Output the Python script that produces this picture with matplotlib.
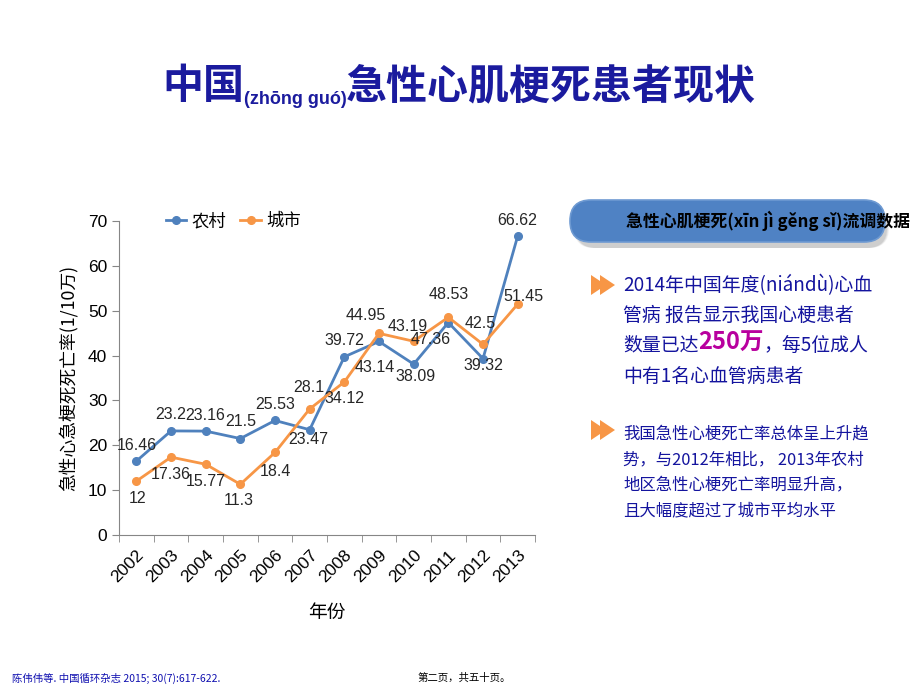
import matplotlib
matplotlib.use("Agg")
import matplotlib.pyplot as plt
from matplotlib.patches import FancyBboxPatch, Polygon

# Data
years = ["2002", "2003", "2004", "2005", "2006", "2007",
         "2008", "2009", "2010", "2011", "2012", "2013"]
rural = [16.46, 23.2, 23.16, 21.5, 25.53, 23.47,
         39.72, 43.14, 38.09, 47.36, 39.32, 66.62]
urban = [12, 17.36, 15.77, 11.3, 18.4, 28.1,
         34.12, 44.95, 43.19, 48.53, 42.5, 51.45]

# label offsets in pixels (dx, dy up) — layout only
rural_off = [(0, 16), (0, 16), (0, 16), (0, 17), (0, 16), (-1, -10),
             (0, 16), (-4, -26), (2, -12), (-18, -17), (0, -7), (0, 16)]
urban_off = [(1, -17), (0, -17), (0, -17), (-2, -16), (0, -19), (-1, 21),
             (0, -17), (-13, 18), (-6, 15), (0, 23), (-3, 21), (6, 8)]

BLUE = "#4F81BD"
ORANGE = "#F79646"
NAVY = "#1B1B9E"
TXT = "#14149E"
GRAY = "#868686"
CJK = ["Noto Sans CJK SC", "DejaVu Sans"]
LAT = ["Liberation Sans", "DejaVu Sans"]

plt.rcParams["font.family"] = CJK

W, H = 920, 689
fig = plt.figure(figsize=(W / 100, H / 100), dpi=100)
fig.patch.set_facecolor("white")

# ── overlay in pixel units (y down) ─────────────────────────────────────────
ov = fig.add_axes([0, 0, 1, 1])
ov.set_xlim(0, W); ov.set_ylim(H, 0)
ov.axis("off")

# Title
ov.text(162, 86, "中国", fontsize=29.5, fontweight="bold", color=NAVY,
        ha="left", va="center", family=CJK)
ov.text(244, 104, "(zhōng guó)", fontsize=13, fontweight="bold", color=NAVY,
        ha="left", va="baseline", family=LAT)
ov.text(346, 86, "急性心肌梗死患者现状", fontsize=29.5, fontweight="bold",
        color=NAVY, ha="left", va="center", family=CJK)

# Banner pill with soft shadow
for k, a in enumerate([0.10, 0.14, 0.18]):
    ov.add_patch(FancyBboxPatch((574 + k, 206 + k), 315 - 2 * k, 42 - k,
                 boxstyle="round,pad=0,rounding_size=20",
                 fc="#7f7f7f", ec="none", alpha=a, zorder=1))
ov.add_patch(FancyBboxPatch((570, 200), 315, 42,
             boxstyle="round,pad=0,rounding_size=21",
             fc="#4F82C4", ec="#6E9AD2", lw=1.2, zorder=2))
ov.text(626, 221, "急性心肌梗死(xīn jì gěng sǐ)流调数据", fontsize=12.2,
        fontweight="bold", color="black", ha="left", va="center",
        family=CJK, zorder=3)


def bullet(cy):
    for x0 in (591, 600):
        ov.add_patch(Polygon([(x0, cy - 10), (x0, cy + 10), (x0 + 15, cy)],
                             closed=True, fc=ORANGE, ec="none", zorder=3))


bullet(285)
bullet(430)

# bullet 1
ov.text(623, 285, "2014年中国年度(niándù)心血", fontsize=13.6, color=TXT,
        ha="left", va="center")
ov.text(623, 315, "管病 报告显示我国心梗患者", fontsize=13.6, color=TXT,
        ha="left", va="center")
ov.text(623, 345, "数量已达", fontsize=13.6, color=TXT, ha="left", va="center")
ov.text(698, 343, "250万", fontsize=17, fontweight="bold", color="#B8009E",
        ha="left", va="center")
ov.text(763, 345, "，每5位成人", fontsize=13.6, color=TXT, ha="left", va="center")
ov.text(623, 376, "中有1名心血管病患者", fontsize=13.6, color=TXT,
        ha="left", va="center")

# bullet 2
lines2 = ["我国急性心梗死亡率总体呈上升趋",
          "势，与2012年相比， 2013年农村",
          "地区急性心梗死亡率明显升高，",
          "且大幅度超过了城市平均水平"]
for i, s in enumerate(lines2):
    ov.text(623, 434 + i * 25.5, s, fontsize=11.8, color=TXT,
            ha="left", va="center")

# footer
ov.text(12, 678, "陈伟伟等. 中国循环杂志 2015; 30(7):617-622.", fontsize=7.5,
        color="#1010B0", ha="left", va="center")
ov.text(418, 678, "第二页，共五十页。", fontsize=7.5, color="black",
        ha="left", va="center")

# ── line chart ──────────────────────────────────────────────────────────────
ax = fig.add_axes([119 / W, 1 - 535 / H, (535 - 119) / W, (535 - 221) / H])
x = list(range(len(years)))
ax.plot(x, rural, color=BLUE, lw=2, marker="o", ms=5.5, label="农村", zorder=3)
ax.plot(x, urban, color=ORANGE, lw=2, marker="o", ms=5.5, label="城市", zorder=3)

for xi, v, (dx, dy) in zip(x, rural, rural_off):
    ax.annotate(f"{v:g}", (xi, v), xytext=(dx, dy), textcoords="offset pixels",
                ha="center", va="center", fontsize=11.5, color="#262626",
                family=LAT)
for xi, v, (dx, dy) in zip(x, urban, urban_off):
    ax.annotate(f"{v:g}", (xi, v), xytext=(dx, dy), textcoords="offset pixels",
                ha="center", va="center", fontsize=11.5, color="#262626",
                family=LAT)

ax.set_xlim(-0.5, len(years) - 0.5)
ax.set_ylim(0, 70)
ax.set_yticks(range(0, 71, 10))
ax.set_xticks(x)
ax.set_xticklabels(years, rotation=45, ha="right", rotation_mode="anchor",
                   fontsize=12.5, family=LAT)
ax.set_xticks([i - 0.5 for i in range(len(years) + 1)], minor=True)
ax.tick_params(axis="x", which="major", length=0, pad=9)
ax.tick_params(axis="x", which="minor", length=5, color=GRAY, direction="out")
ax.tick_params(axis="y", length=5, color=GRAY, direction="out", labelsize=12.5)
for lb in ax.get_yticklabels():
    lb.set_family(LAT)
for s in ("top", "right"):
    ax.spines[s].set_visible(False)
for s in ("left", "bottom"):
    ax.spines[s].set_color(GRAY)
ax.set_facecolor("none")

ax.set_ylabel("急性心急梗死死亡率(1/10万)", fontsize=12.8, labelpad=7)
ax.set_xlabel("年份", fontsize=13.5, labelpad=12)

ax.legend(loc="center left", bbox_to_anchor=(150 / W, 1 - 221 / H),
          bbox_transform=fig.transFigure, ncol=2, frameon=False,
          fontsize=12.5, handlelength=1.2, columnspacing=0.8, handletextpad=0.3)

fig.savefig("out.png", dpi=100, facecolor="white")
